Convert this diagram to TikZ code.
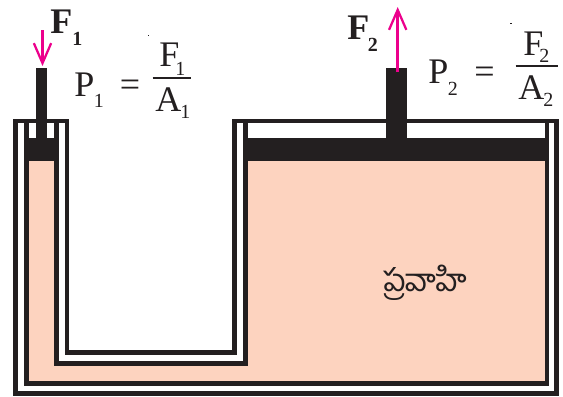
\documentclass[tikz,border=0pt]{standalone}
\usepackage{fontspec}
\setmainfont{Liberation Serif}
\newfontfamily\telugufont[Script=Telugu]{Hind Guntur}
\usetikzlibrary{arrows.meta}
\definecolor{inkblack}{RGB}{35,31,32}
\definecolor{fluidpink}{RGB}{253,211,191}
\definecolor{forcepink}{RGB}{236,0,140}
\tikzset{
  wall/.style={draw=inkblack,line width=3.5pt,miter limit=10},
  solidpart/.style={fill=inkblack,draw=none},
  forcearrow/.style={draw=forcepink,line width=1.9pt,-{Straight Barb[length=15pt,width=13pt,line width=1.7pt]}},
  bigtext/.style={font=\fontsize{27}{27}\selectfont,text=inkblack,anchor=base west,inner sep=0pt},
  bigbold/.style={font=\fontsize{27}{27}\bfseries\selectfont,text=inkblack,anchor=base west,inner sep=0pt},
  subtext/.style={font=\fontsize{15}{15}\selectfont,text=inkblack,anchor=base west,inner sep=0pt},
  subbold/.style={font=\fontsize{15}{15}\bfseries\selectfont,text=inkblack,anchor=base west,inner sep=0pt}
}
\begin{document}
\begin{tikzpicture}[x=0.75pt,y=-0.75pt]
\useasboundingbox (0,0) rectangle (563,396);
\fill [fluidpink] (26,150) -- (56,150) -- (56,364) -- (246,364) -- (246,150) -- (548,150) -- (548,384) -- (26,384) -- cycle;
\draw [wall] (15.6,121) -- (66.9,121) -- (66.9,352.6) -- (234.6,352.6) -- (234.6,121) -- (556.5,121) -- (556.5,393.6) -- (15.6,393.6) -- cycle;
\draw [wall] (26.4,122) -- (26.4,383.6) -- (547,383.6) -- (547,122);
\draw [wall] (56.5,122) -- (56.5,363.2) -- (245.6,363.2) -- (245.6,122);
\fill [solidpart] (24,138) rectangle (59,161);
\fill [solidpart] (36,68) rectangle (46.5,138);
\fill [solidpart] (243,138) rectangle (549,161);
\fill [solidpart] (385.7,68) rectangle (407,138);
\coordinate (pushtop) at (42.5,30);
\coordinate (pushend) at (42.5,66);
\coordinate (liftstart) at (397.7,72);
\coordinate (lifttop) at (397.7,7);
\draw [forcearrow] (pushtop) -- (pushend);
\draw [forcearrow] (liftstart) -- (lifttop);
\node [bigbold] (forceone) at (50,33) {F};
\node [subbold] (forceonesub) at (72,45) {1};
\node [bigtext] (pressone) at (74,96) {P};
\node [subtext] (pressonesub) at (93.5,107) {1};
\node [bigtext] (equalone) at (119.5,96) {=};
\node [bigtext] (fracforceone) at (159,66) {F};
\node [subtext] (fracforceonesub) at (175,75) {1};
\coordinate (ruleonel) at (152.5,77.7);
\coordinate (ruleoner) at (191,77.7);
\draw [inkblack,line width=1.2pt] (ruleonel) -- (ruleoner);
\node [bigtext] (areaone) at (155,111) {A};
\node [subtext] (areaonesub) at (180,118.5) {1};
\node [bigbold] (forcetwo) at (347,39.5) {F};
\node [subbold] (forcetwosub) at (367.5,51) {2};
\node [bigtext] (presstwo) at (428,83) {P};
\node [subtext] (presstwosub) at (447.5,95) {2};
\node [bigtext] (equaltwo) at (474,83) {=};
\node [bigtext] (fracforcetwo) at (523,55) {F};
\node [subtext] (fracforcetwosub) at (539,62.5) {2};
\coordinate (ruletwol) at (515.5,65.7);
\coordinate (ruletwor) at (558,65.7);
\draw [inkblack,line width=1.2pt] (ruletwol) -- (ruletwor);
\node [bigtext] (areatwo) at (518,99) {A};
\node [subtext] (areatwosub) at (543,106.7) {2};
\node [font=\fontsize{23.5}{23.5}\telugufont,text=inkblack,anchor=base west,inner sep=0pt] (fluidlabel) at (383,291) {ప్రవాహి};
\fill [inkblack] (147.5,34.6) rectangle (148.8,35.3);
\fill [inkblack] (510.4,23) rectangle (511.7,23.7);
\end{tikzpicture}
\end{document}
